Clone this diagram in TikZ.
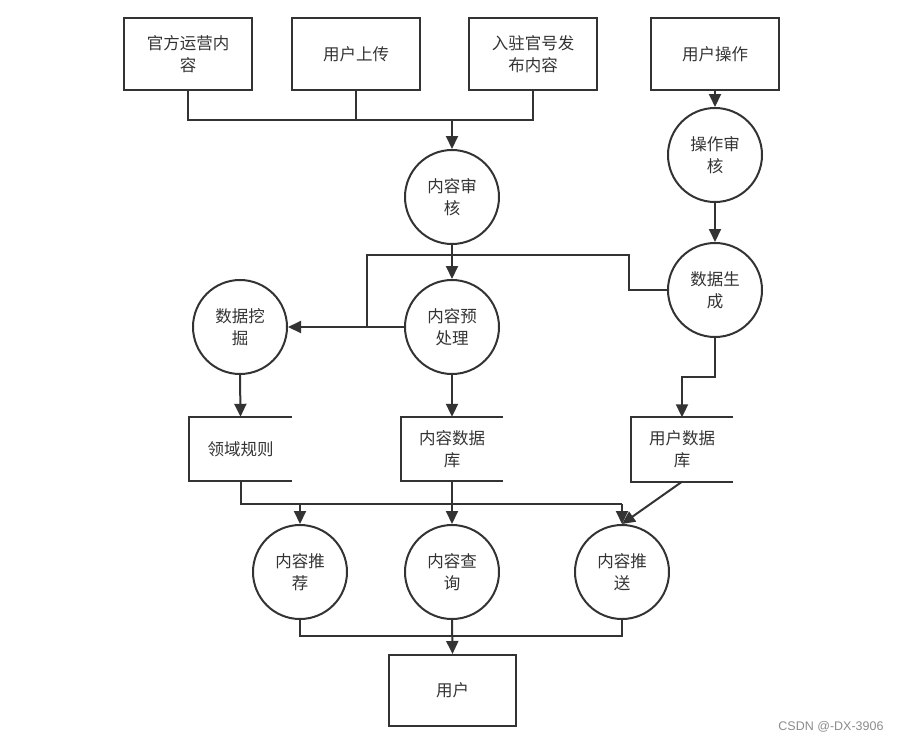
\documentclass[tikz,border=0pt]{standalone}
\usepackage{fontspec}
\newfontfamily\cjk{Noto Sans CJK SC}
\newfontfamily\wmfont{Liberation Sans}
\usetikzlibrary{arrows.meta}
\definecolor{ink}{HTML}{333333}
\tikzset{
  every node/.style={font=\cjk\fontsize{16.5}{22}\selectfont, text=ink, align=center},
  box/.style={draw=ink, line width=2pt, rectangle, minimum width=128pt, minimum height=72pt, inner sep=0pt},
  proc/.style={draw=ink, line width=2pt, circle, minimum size=94pt, inner sep=0pt},
  store/.style={rectangle, minimum width=102pt, minimum height=64pt, inner sep=0pt},
  ln/.style={draw=ink, line width=2pt},
  arr/.style={ln, -{Triangle[length=13pt,width=12pt]}}
}
\begin{document}
\begin{tikzpicture}[x=1pt,y=-1pt]
\useasboundingbox (0,0) rectangle (899,742);
% top boxes
\node[box] (a1) at (188,54) {官方运营内\\容};
\node[box] (a2) at (356,54) {用户上传};
\node[box] (a3) at (533,54) {入驻官号发\\布内容};
\node[box] (op) at (715,54) {用户操作};
% processes
\node[proc] (shen) at (452,197) {内容审\\核};
\node[proc] (opck) at (715,155) {操作审\\核};
\node[proc] (gen) at (715,290) {数据生\\成};
\node[proc] (pre) at (452,327) {内容预\\处理};
\node[proc] (mine) at (240,327) {数据挖\\掘};
\node[proc] (rec) at (300,572) {内容推\\荐};
\node[proc] (query) at (452,572) {内容查\\询};
\node[proc] (push) at (622,572) {内容推\\送};
% stores
\node[store] (rule) at (240.5,449) {领域规则};
\node[store] (cdb) at (452,449) {内容数据\\库};
\node[store] (udb) at (682,449.5) {用户数据\\库};
\foreach \s in {rule,cdb,udb}{
  \draw[ln] (\s.north east) -- (\s.north west) -- (\s.south west) -- (\s.south east);
}
% final box
\node[box, minimum width=127pt, minimum height=71pt] (user) at (452.5,690.5) {用户};
% coordinates
\coordinate (j1) at (452,120);
\coordinate (k1) at (629,255);
\coordinate (k2) at (367,255);
\coordinate (j3) at (367,327);
\coordinate (k3) at (682,377);
\coordinate (k4) at (622,504);
\coordinate (k5) at (452,636);
% connectors
\draw[ln] (a1.south) |- (j1);
\draw[ln] (a2.south) -- (a2.south |- j1);
\draw[ln] (a3.south) |- (j1);
\draw[arr] (j1) -- (shen.north);
\draw[arr] (op.south) -- (opck.north);
\draw[arr] (opck.south) -- (gen.north);
\draw[arr] (shen.south) -- (pre.north);
\draw[arr] (gen.west) -| (k1) -- (k2) -- (j3) -- (mine.east);
\draw[ln] (pre.west) -- (j3);
\draw[arr] (mine.south) -- (rule.north);
\draw[arr] (pre.south) -- (cdb.north);
\draw[arr] (gen.south) |- (k3) -- (udb.north);
\draw[ln] (rule.south) |- (k4);
\draw[arr] (k4) -- (push.north);
\draw[arr] (rec.north |- k4) -- (rec.north);
\draw[arr] (cdb.south) -- (query.north);
\draw[arr] (udb.south) -- (push.north);
\draw[ln] (rec.south) |- (k5);
\draw[ln] (push.south) |- (k5);
\draw[arr] (query.south) -- (user.north);
% watermark
\node[font=\wmfont\fontsize{12.5}{14}\selectfont, text=black!45] (wm) at (831,727) {CSDN @-DX-3906};
\end{tikzpicture}
\end{document}
